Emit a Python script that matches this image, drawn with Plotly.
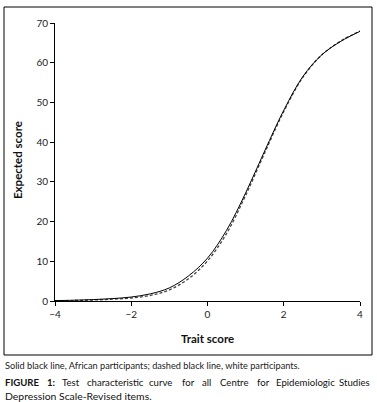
import plotly.graph_objects as go

trait = [-4, -3.5, -3, -2.5, -2, -1.5, -1, -0.5, 0, 0.5, 1, 1.5, 2, 2.5, 3, 3.5, 4]
african = [0.1, 0.2, 0.35, 0.6, 1.0, 1.8, 3.3, 6.3, 10.8, 17.8, 27.2, 37.8, 48.0, 56.5, 62.0, 65.4, 67.9]
white = [0.05, 0.12, 0.25, 0.45, 0.75, 1.4, 2.8, 5.6, 10.1, 17.0, 26.6, 37.3, 47.7, 56.3, 62.0, 65.5, 68.0]

x_ticks = [-4, -2, 0, 2, 4]
y_ticks = [0, 10, 20, 30, 40, 50, 60, 70]

note_text = "Solid black line, African participants; dashed black line, white participants."
caption_words = ["<b>FIGURE</b>", "<b>1:</b>", "Test", "characteristic", "curve", "for", "all",
                 "Centre", "for", "Epidemiologic", "Studies"]
caption_line2 = "Depression Scale-Revised items."

FONT = "Lato"

fig = go.Figure()
fig.add_trace(go.Scatter(x=trait, y=white, mode="lines", line=dict(color="#444", width=1.3, dash="3px,2px", shape="spline"),
                         name="White participants"))
fig.add_trace(go.Scatter(x=trait, y=african, mode="lines", line=dict(color="black", width=1, shape="spline"),
                         name="African participants"))

L, R, T, B = 55, 17, 23, 101
W, H = 377, 402
pw = W - L - R
ph = H - T - B

def px(x):
    return (x - L) / pw

def py(y):
    return (H - B - y) / ph

fig.update_layout(
    width=W, height=H,
    margin=dict(l=L, r=R, t=T, b=B),
    paper_bgcolor="white", plot_bgcolor="white",
    showlegend=False,
    font=dict(family=FONT, size=10, color="#222"),
    xaxis=dict(range=[-4, 4], tickvals=x_ticks, ticks="outside", ticklen=4, tickcolor="black",
               showline=True, linecolor="black", linewidth=1, showgrid=False, zeroline=False,
               tickfont=dict(size=10, color="#222")),
    yaxis=dict(range=[0, 70], tickvals=y_ticks, ticks="outside", ticklen=4, tickcolor="black",
               showline=True, linecolor="black", linewidth=1, showgrid=False, zeroline=False,
               tickfont=dict(size=10, color="#222")),
    shapes=[dict(type="rect", xref="paper", yref="paper",
                 x0=px(4), x1=px(372), y0=py(355), y1=py(7),
                 line=dict(color="black", width=1), fillcolor="rgba(0,0,0,0)")],
)

fig.add_annotation(text="<b>Trait score</b>", xref="paper", yref="paper", x=px(207), y=py(338),
                   showarrow=False, font=dict(size=11.5, color="#111"), xanchor="center", yanchor="middle")
fig.add_annotation(text="<b>Expected score</b>", xref="paper", yref="paper", x=px(17), y=py(160),
                   showarrow=False, textangle=-90, font=dict(size=11.5, color="#111"), xanchor="center", yanchor="middle")
fig.add_annotation(text=note_text,
                   xref="paper", yref="paper", x=px(3), y=py(365), showarrow=False,
                   font=dict(size=9.2, color="#222"), xanchor="left", yanchor="middle")

# justified caption line: estimated rendered word widths (px) at the caption font size
cap_size = 9.6
est_w = [35, 7.5, 16.6, 55, 25, 13, 11, 28.6, 12, 59, 30.5]
left_edge, right_edge = 4, 372
gap = (right_edge - left_edge - sum(est_w)) / (len(est_w) - 1)
xpos = left_edge
for i, w in enumerate(caption_words):
    if i == len(caption_words) - 1:
        fig.add_annotation(text=w, xref="paper", yref="paper", x=px(right_edge), y=py(382), showarrow=False,
                           font=dict(size=cap_size, color="#111"), xanchor="right", yanchor="middle")
    else:
        fig.add_annotation(text=w, xref="paper", yref="paper", x=px(xpos - 1), y=py(382), showarrow=False,
                           font=dict(size=cap_size, color="#111"), xanchor="left", yanchor="middle")
    xpos += est_w[i] + gap
fig.add_annotation(text=caption_line2,
                   xref="paper", yref="paper", x=px(3), y=py(396), showarrow=False,
                   font=dict(size=10.4, color="#111"), xanchor="left", yanchor="middle")

fig.write_html("out.html", config={"displayModeBar": False},
               post_script="document.body.style.margin='0';document.body.style.overflow='hidden';")
